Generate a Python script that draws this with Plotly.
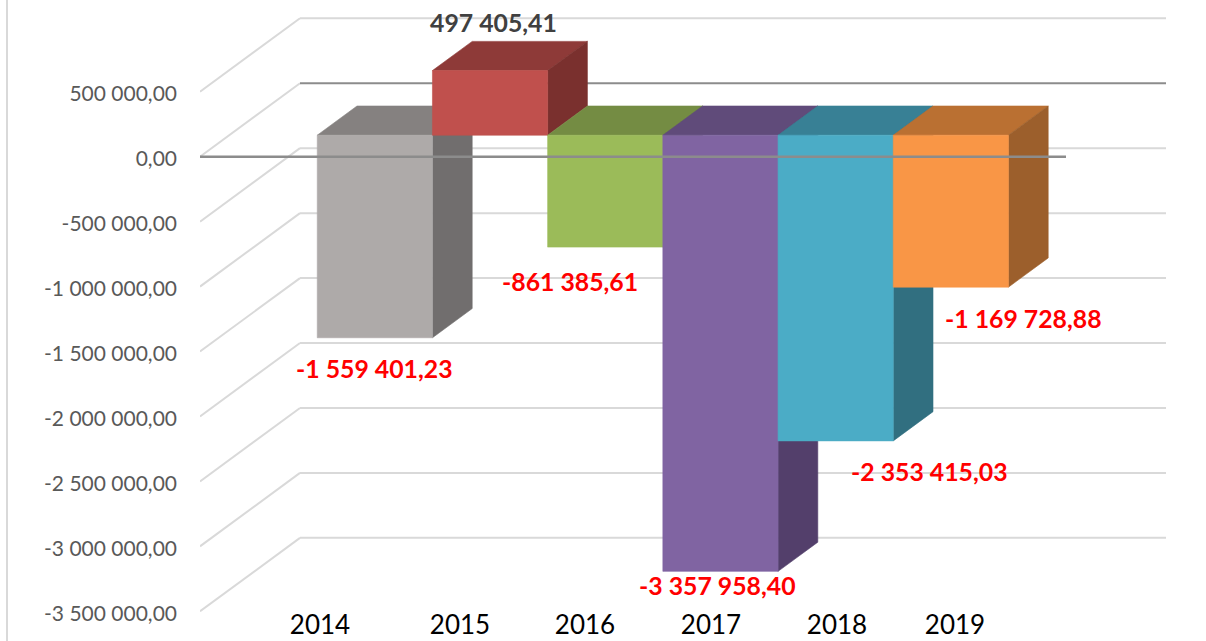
import plotly.graph_objects as go

# ---------- data ----------
years = ["2014", "2015", "2016", "2017", "2018", "2019"]
values = [-1559401.23, 497405.41, -861385.61, -3357958.40, -2353415.03, -1169728.88]
value_labels = ["-1 559 401,23", "497 405,41", "-861 385,61", "-3 357 958,40", "-2 353 415,03", "-1 169 728,88"]
label_colors = ["#FF0000", "#404040", "#FF0000", "#FF0000", "#FF0000", "#FF0000"]
axis_values = [500000, 0, -500000, -1000000, -1500000, -2000000, -2500000, -3000000, -3500000]
axis_labels = ["500 000,00", "0,00", "-500 000,00", "-1 000 000,00", "-1 500 000,00",
               "-2 000 000,00", "-2 500 000,00", "-3 000 000,00", "-3 500 000,00"]
front_colors = ["#AEAAA9", "#C0504D", "#9BBB59", "#8064A2", "#4BACC6", "#F99646"]
top_colors = ["#858180", "#8E3A38", "#748C43", "#604B7A", "#388095", "#BA7032"]
side_colors = ["#716E6E", "#7A302E", "#647A3A", "#533F6B", "#316F80", "#9C5F2C"]

# ---------- scene geometry ----------
W, H = 1206, 641
PLOT_L, PLOT_B = 200, 612.5
PX_PER_X = 115.2
PX_PER_V = 65 / 500000
X0_PX = 345.6           # pixel of category 0 on the front plane
Y0_PX = 156.8           # pixel of value 0 on the front plane
DEPTH_X = 100 / PX_PER_X
DEPTH_V = 73.5 / PX_PER_V
T_FRONT, T_BACK = 0.2925, 0.69
X_LEFT = (PLOT_L - X0_PX) / PX_PER_X
X_RIGHT = (1066 - X0_PX) / PX_PER_X

# shifts of annotations (pixels), relative to each bar's lower/upper front centre
label_shift = [(0, -31), (3, 48), (-35, -34), (-3, -14), (94, -31), (73, -31)]
year_px = [320, 460, 585, 711, 837, 955]


def px(x, v, t):
    return x + DEPTH_X * t, v + DEPTH_V * t


def poly(points, color):
    xs = [p[0] for p in points] + [points[0][0]]
    ys = [p[1] for p in points] + [points[0][1]]
    return go.Scatter(x=xs, y=ys, mode="lines", fill="toself", fillcolor=color,
                      line=dict(width=0.6, color=color), hoverinfo="skip", showlegend=False)


def line(points, color, width):
    return go.Scatter(x=[p[0] for p in points], y=[p[1] for p in points], mode="lines",
                      line=dict(color=color, width=width), hoverinfo="skip", showlegend=False)


fig = go.Figure()

# wall and side grid lines
for v in axis_values:
    fig.add_trace(line([px(X_LEFT, v, 0), px(X_LEFT, v, 1)], "#D9D9D9", 2))
    fig.add_trace(line([px(X_LEFT, v, 1), px(X_RIGHT, v, 1)], "#8C8C8C" if v == 0 else "#D9D9D9", 2))

# 3D bars, left to right
for i, v in enumerate(values):
    hi, lo = max(v, 0), min(v, 0)
    l, r = i - 0.5, i + 0.5
    fig.add_trace(poly([px(l, hi, T_FRONT), px(r, hi, T_FRONT), px(r, hi, T_BACK), px(l, hi, T_BACK)], top_colors[i]))
    fig.add_trace(poly([px(r, hi, T_FRONT), px(r, hi, T_BACK), px(r, lo, T_BACK), px(r, lo, T_FRONT)], side_colors[i]))
    fig.add_trace(poly([px(l, hi, T_FRONT), px(r, hi, T_FRONT), px(r, lo, T_FRONT), px(l, lo, T_FRONT)], front_colors[i]))

# front zero line
fig.add_trace(line([px(X_LEFT, 0, 0), px(X_RIGHT, 0, 0)], "#8C8C8C", 2.5))

annotations = []
for i, v in enumerate(values):
    ax, ay = px(i, min(v, 0) if v < 0 else v, T_FRONT)
    sx, sy = label_shift[i]
    annotations.append(dict(x=ax, y=ay, text=value_labels[i], showarrow=False, xshift=sx, yshift=sy,
                            font=dict(family="Lato", size=24.8, color=label_colors[i], weight="bold")))

fig.update_layout(
    width=W, height=H, autosize=False, paper_bgcolor="white", plot_bgcolor="white",
    margin=dict(l=PLOT_L, r=0, t=0, b=H - PLOT_B, pad=0),
    showlegend=False, annotations=annotations,
    xaxis=dict(range=[X_LEFT, (W - X0_PX) / PX_PER_X], showgrid=False, zeroline=False, showline=False,
               tickmode="array", tickvals=[(p - X0_PX) / PX_PER_X for p in year_px], ticktext=years,
               ticks="", tickangle=0, ticklabelstandoff=-5,
               tickfont=dict(family="Lato", size=26, color="#000000")),
    yaxis=dict(range=[(Y0_PX - PLOT_B) / PX_PER_V, Y0_PX / PX_PER_V], showgrid=False, zeroline=False, showline=False,
               tickmode="array", tickvals=axis_values, ticktext=axis_labels,
               ticks="", ticklabelstandoff=22, ticklabelshift=2,
               tickfont=dict(family="Lato", size=21, color="#595959")),
    shapes=[dict(type="line", xref="paper", yref="paper", x0=-193 / (W - PLOT_L), x1=-193 / (W - PLOT_L),
                 y0=0 - 30 / PLOT_B, y1=1, line=dict(color="#D9D9D9", width=2))],
)

fig.write_html("out.html", config={"displayModeBar": False},
               post_script="document.body.style.margin='0';document.body.style.overflow='hidden';")
